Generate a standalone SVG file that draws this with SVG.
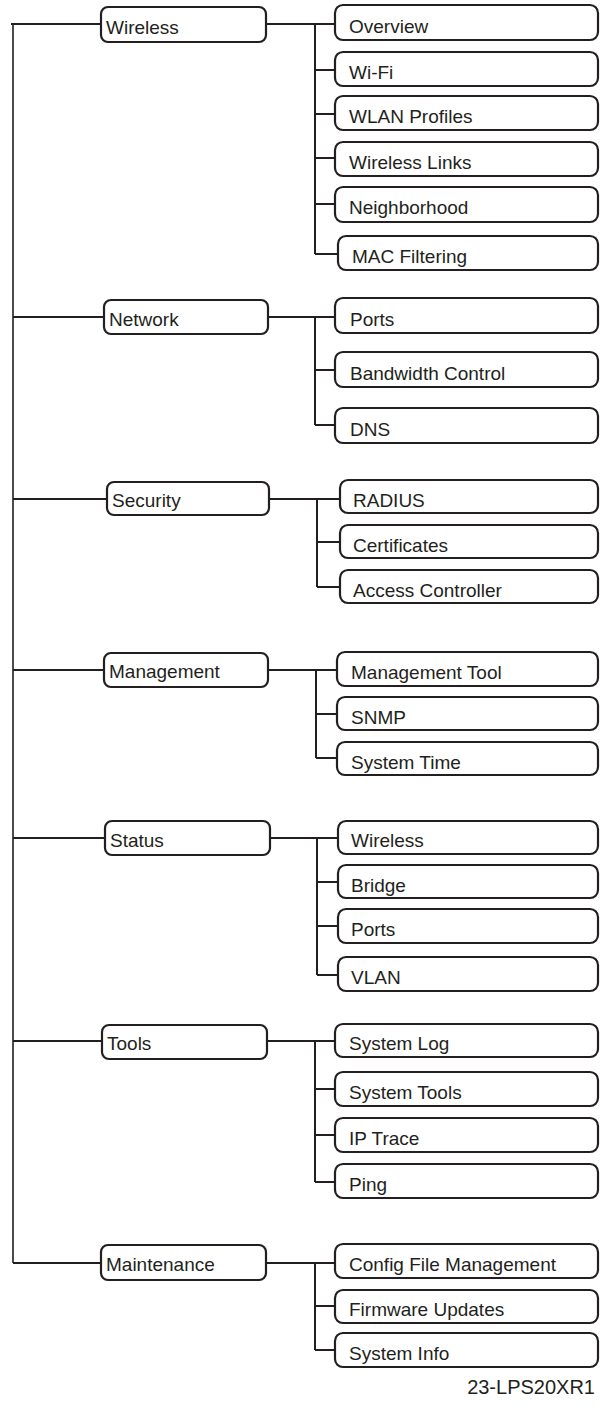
<svg xmlns="http://www.w3.org/2000/svg" width="600" height="1413" viewBox="0 0 600 1413">
<style>
.bg{fill:#ffffff}
.box{fill:#ffffff;stroke:#231f20;stroke-width:2.2}
.ln{fill:none;stroke:#231f20;stroke-width:2}
.main{fill:none;stroke:#231f20;stroke-width:1.6}
.t{font-family:"Liberation Sans",Arial,Helvetica,sans-serif;font-size:19px;fill:#231f20}
.ft{font-family:"Liberation Sans",Arial,Helvetica,sans-serif;font-size:20px;fill:#231f20;text-anchor:end}
</style>
<rect class="bg" x="0" y="0" width="600" height="1413"/>
<g id="connectors">
<path class="main" d="M13,23 V1263"/>
<path class="ln" d="M11,24 H101 M13,317 H104 M13,499 H107 M13,670 H104 M13,838 H105 M13,1041 H102 M13,1263 H101"/>
<path class="ln" d="M266,24 H335 M315,24 V254 M315,70 H335 M315,114 H335 M315,158 H335 M315,204 H335 M315,254 H338"/>
<path class="ln" d="M268,317 H335 M315,317 V425 M315,370 H335 M315,425 H335"/>
<path class="ln" d="M269,499 H340 M317,499 V587 M317,542 H340 M317,587 H340"/>
<path class="ln" d="M268,670 H337 M316,670 V758 M316,714 H337 M316,758 H337"/>
<path class="ln" d="M270,838 H338 M317,838 V975 M317,882 H338 M317,926 H338 M317,975 H338"/>
<path class="ln" d="M267,1041 H335 M315,1041 V1182 M315,1089 H335 M315,1135 H335 M315,1182 H335"/>
<path class="ln" d="M266,1263 H335 M315,1263 V1350 M315,1306 H335 M315,1350 H335"/>
</g>
<g id="wireless"><rect class="box" x="101" y="7" width="165" height="35" rx="7"/><text class="t" x="106" y="34">Wireless</text></g>
<g id="overview"><rect class="box" x="335" y="5" width="263" height="35" rx="8"/><text class="t" x="349" y="33">Overview</text></g>
<g id="wifi"><rect class="box" x="335" y="52" width="263" height="34" rx="8"/><text class="t" x="349" y="79">Wi-Fi</text></g>
<g id="wlan-profiles"><rect class="box" x="335" y="96" width="263" height="34" rx="8"/><text class="t" x="349" y="123">WLAN Profiles</text></g>
<g id="wireless-links"><rect class="box" x="335" y="142" width="263" height="34" rx="8"/><text class="t" x="349" y="169">Wireless Links</text></g>
<g id="neighborhood"><rect class="box" x="335" y="187" width="263" height="35" rx="8"/><text class="t" x="349" y="214">Neighborhood</text></g>
<g id="mac-filtering"><rect class="box" x="338" y="236" width="260" height="34" rx="8"/><text class="t" x="352" y="263">MAC Filtering</text></g>

<g id="network"><rect class="box" x="104" y="300" width="164" height="34" rx="7"/><text class="t" x="109" y="326">Network</text></g>
<g id="ports"><rect class="box" x="335" y="298" width="263" height="35" rx="8"/><text class="t" x="350" y="326">Ports</text></g>
<g id="bandwidth-control"><rect class="box" x="335" y="352" width="263" height="35" rx="8"/><text class="t" x="350" y="380">Bandwidth Control</text></g>
<g id="dns"><rect class="box" x="335" y="408" width="263" height="35" rx="8"/><text class="t" x="350" y="436">DNS</text></g>

<g id="security"><rect class="box" x="107" y="482" width="162" height="33" rx="7"/><text class="t" x="112" y="507">Security</text></g>
<g id="radius"><rect class="box" x="340" y="480" width="258" height="33" rx="8"/><text class="t" x="353" y="507">RADIUS</text></g>
<g id="certificates"><rect class="box" x="340" y="525" width="258" height="33" rx="8"/><text class="t" x="353" y="552">Certificates</text></g>
<g id="access-controller"><rect class="box" x="340" y="570" width="258" height="33" rx="8"/><text class="t" x="353" y="597">Access Controller</text></g>

<g id="management"><rect class="box" x="104" y="653" width="164" height="34" rx="7"/><text class="t" x="109" y="678">Management</text></g>
<g id="management-tool"><rect class="box" x="337" y="652" width="261" height="34" rx="8"/><text class="t" x="351" y="679">Management Tool</text></g>
<g id="snmp"><rect class="box" x="337" y="697" width="261" height="33" rx="8"/><text class="t" x="351" y="724">SNMP</text></g>
<g id="system-time"><rect class="box" x="337" y="742" width="261" height="33" rx="8"/><text class="t" x="351" y="769">System Time</text></g>

<g id="status"><rect class="box" x="105" y="821" width="165" height="34" rx="7"/><text class="t" x="110" y="847">Status</text></g>
<g id="status-wireless"><rect class="box" x="338" y="821" width="260" height="33" rx="8"/><text class="t" x="351" y="847">Wireless</text></g>
<g id="bridge"><rect class="box" x="338" y="865" width="260" height="33" rx="8"/><text class="t" x="351" y="892">Bridge</text></g>
<g id="status-ports"><rect class="box" x="338" y="909" width="260" height="34" rx="8"/><text class="t" x="351" y="936">Ports</text></g>
<g id="vlan"><rect class="box" x="338" y="957" width="260" height="34" rx="8"/><text class="t" x="351" y="984">VLAN</text></g>

<g id="tools"><rect class="box" x="102" y="1025" width="165" height="34" rx="7"/><text class="t" x="107" y="1050">Tools</text></g>
<g id="system-log"><rect class="box" x="335" y="1024" width="263" height="33" rx="8"/><text class="t" x="349" y="1050">System Log</text></g>
<g id="system-tools"><rect class="box" x="335" y="1072" width="263" height="34" rx="8"/><text class="t" x="349" y="1099">System Tools</text></g>
<g id="ip-trace"><rect class="box" x="335" y="1118" width="263" height="34" rx="8"/><text class="t" x="349" y="1145">IP Trace</text></g>
<g id="ping"><rect class="box" x="335" y="1164" width="263" height="34" rx="8"/><text class="t" x="349" y="1191">Ping</text></g>

<g id="maintenance"><rect class="box" x="101" y="1245" width="165" height="35" rx="7"/><text class="t" x="106" y="1271">Maintenance</text></g>
<g id="config-file-management"><rect class="box" x="335" y="1244" width="263" height="34" rx="8"/><text class="t" x="349" y="1271">Config File Management</text></g>
<g id="firmware-updates"><rect class="box" x="335" y="1290" width="263" height="33" rx="8"/><text class="t" x="349" y="1316">Firmware Updates</text></g>
<g id="system-info"><rect class="box" x="335" y="1333" width="263" height="34" rx="8"/><text class="t" x="349" y="1360">System Info</text></g>

<text class="ft" x="595" y="1394">23-LPS20XR1</text>
</svg>
